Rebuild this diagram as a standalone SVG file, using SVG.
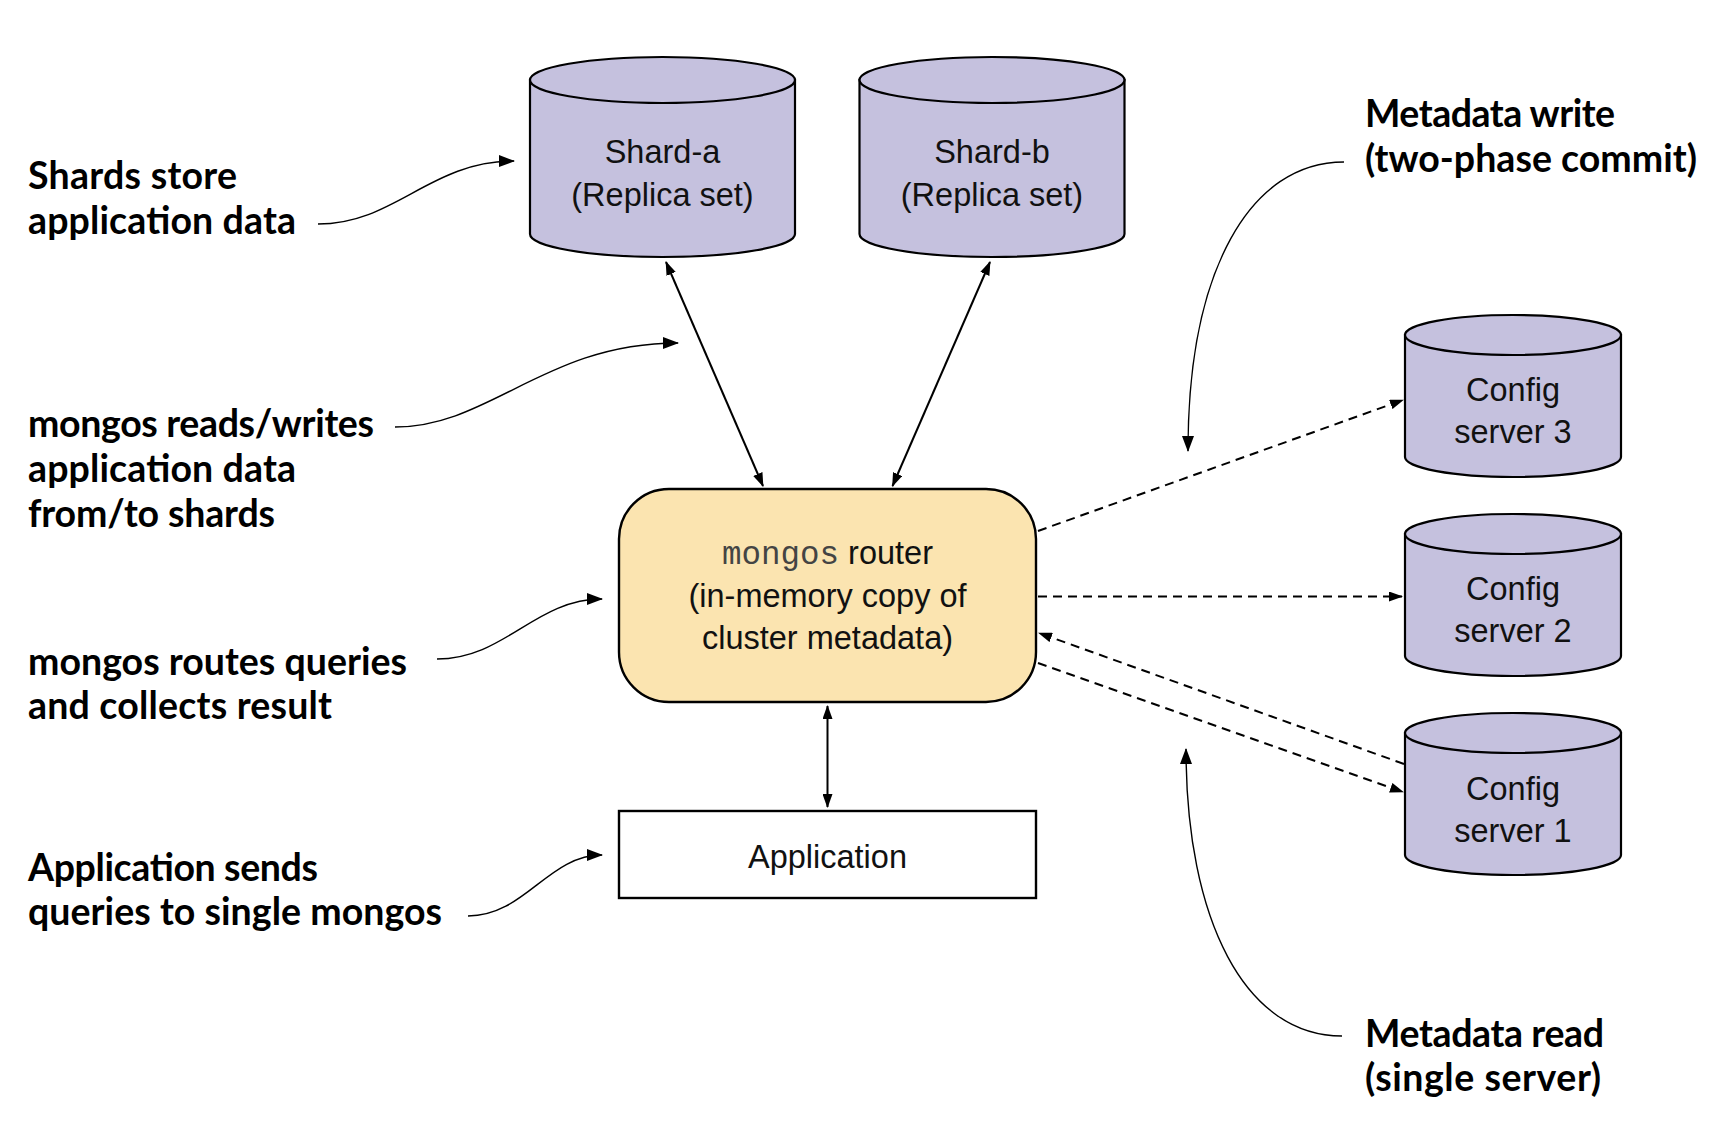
<svg xmlns="http://www.w3.org/2000/svg" width="1732" height="1130" viewBox="0 0 1732 1130">
<style>
.cyl{fill:#c5c1de;stroke:#000;stroke-width:2.2}
.box{stroke:#000;stroke-width:2.4}
.t{font-family:"Liberation Sans",Arial,sans-serif;font-size:32.5px;fill:#111;text-anchor:middle}
.mono{font-family:"Liberation Mono","Courier New",monospace;fill:#444}
.lbl{font-family:Lato,"Open Sans",sans-serif;font-weight:700;font-size:37.5px;fill:#000}
.con{fill:none;stroke:#000;stroke-width:2}
.dash{fill:none;stroke:#000;stroke-width:2;stroke-dasharray:9 6}
.ann{fill:none;stroke:#000;stroke-width:1.4}
</style>
<defs>
<marker id="ah" viewBox="0 0 14 10" refX="13" refY="5" markerWidth="14" markerHeight="10" markerUnits="userSpaceOnUse" orient="auto-start-reverse">
<path d="M0,0 L14,5 L0,10 Z" fill="#000"/>
</marker>
<marker id="ah2" viewBox="0 0 16 12" refX="15" refY="6" markerWidth="16" markerHeight="12" markerUnits="userSpaceOnUse" orient="auto">
<path d="M0,0 L16,6 L0,12 Z" fill="#000"/>
</marker>
</defs>
<rect width="1732" height="1130" fill="#fff"/>

<g id="shard-a">
<path class="cyl" d="M530,80 L530,234 A132.5,23 0 0 0 795,234 L795,80 Z"/>
<ellipse class="cyl" cx="662.5" cy="80" rx="132.5" ry="23"/>
<text class="t" x="662.5" y="163">Shard-a</text>
<text class="t" x="662.5" y="206">(Replica set)</text>
</g>
<g id="shard-b">
<path class="cyl" d="M859.5,80 L859.5,234 A132.5,23 0 0 0 1124.5,234 L1124.5,80 Z"/>
<ellipse class="cyl" cx="992" cy="80" rx="132.5" ry="23"/>
<text class="t" x="992" y="163">Shard-b</text>
<text class="t" x="992" y="206">(Replica set)</text>
</g>
<g id="config3">
<path class="cyl" d="M1405,335 L1405,457 A108,20 0 0 0 1621,457 L1621,335 Z"/>
<ellipse class="cyl" cx="1513" cy="335" rx="108" ry="20"/>
<text class="t" x="1513" y="401">Config</text>
<text class="t" x="1513" y="443">server 3</text>
</g>
<g id="config2">
<path class="cyl" d="M1405,534 L1405,656 A108,20 0 0 0 1621,656 L1621,534 Z"/>
<ellipse class="cyl" cx="1513" cy="534" rx="108" ry="20"/>
<text class="t" x="1513" y="600">Config</text>
<text class="t" x="1513" y="642">server 2</text>
</g>
<g id="config1">
<path class="cyl" d="M1405,733 L1405,855 A108,20 0 0 0 1621,855 L1621,733 Z"/>
<ellipse class="cyl" cx="1513" cy="733" rx="108" ry="20"/>
<text class="t" x="1513" y="800">Config</text>
<text class="t" x="1513" y="842">server 1</text>
</g>
<g id="mongos">
<rect class="box" x="619" y="489" width="417" height="213" rx="50" ry="50" fill="#fbe4b0"/>
<text class="t" x="827.5" y="564"><tspan class="mono">mongos</tspan> router</text>
<text class="t" x="827.5" y="607">(in-memory copy of</text>
<text class="t" x="827.5" y="649">cluster metadata)</text>
</g>
<g id="application">
<rect class="box" x="619" y="811" width="417" height="87" fill="#fff"/>
<text class="t" x="827.5" y="868">Application</text>
</g>

<g id="connectors">
<line class="con" x1="666" y1="262" x2="763" y2="486" marker-start="url(#ah)" marker-end="url(#ah)"/>
<line class="con" x1="990" y1="262" x2="892.5" y2="486" marker-start="url(#ah)" marker-end="url(#ah)"/>
<line class="con" x1="827.5" y1="706" x2="827.5" y2="807" marker-start="url(#ah)" marker-end="url(#ah)"/>
<line class="dash" x1="1038" y1="531" x2="1403" y2="400" marker-end="url(#ah)"/>
<line class="dash" x1="1038" y1="596.5" x2="1402" y2="596.5" marker-end="url(#ah)"/>
<line class="dash" x1="1404" y1="764" x2="1039" y2="633" marker-end="url(#ah)"/>
<line class="dash" x1="1038" y1="663" x2="1403" y2="792" marker-end="url(#ah)"/>
<path class="ann" d="M318,224 C395,224 430,161 514,161" marker-end="url(#ah2)"/>
<path class="ann" d="M395,427 C490,427 545,343 678,343" marker-end="url(#ah2)"/>
<path class="ann" d="M437,659 C505,659 535,599 602,599" marker-end="url(#ah2)"/>
<path class="ann" d="M468,916 C525,916 548,855 602,855" marker-end="url(#ah2)"/>
<path class="ann" d="M1344,162 C1250,162 1188,270 1188,451" marker-end="url(#ah2)"/>
<path class="ann" d="M1342,1036 C1245,1036 1186,920 1186,749" marker-end="url(#ah2)"/>
</g>

<g id="labels">
<text class="lbl" x="28" y="189" textLength="209">Shards store</text>
<text class="lbl" x="28" y="234" textLength="268">application data</text>
<text class="lbl" x="28" y="437" textLength="346">mongos reads/writes</text>
<text class="lbl" x="28" y="482" textLength="268">application data</text>
<text class="lbl" x="28" y="527" textLength="247">from/to shards</text>
<text class="lbl" x="28" y="675" textLength="379">mongos routes queries</text>
<text class="lbl" x="28" y="719" textLength="304">and collects result</text>
<text class="lbl" x="28" y="881" textLength="290">Application sends</text>
<text class="lbl" x="28" y="925" textLength="414">queries to single mongos</text>
<text class="lbl" x="1365" y="127" textLength="250">Metadata write</text>
<text class="lbl" x="1365" y="172" textLength="332">(two-phase commit)</text>
<text class="lbl" x="1365" y="1047" textLength="239">Metadata read</text>
<text class="lbl" x="1365" y="1091" textLength="236">(single server)</text>
</g>
</svg>
